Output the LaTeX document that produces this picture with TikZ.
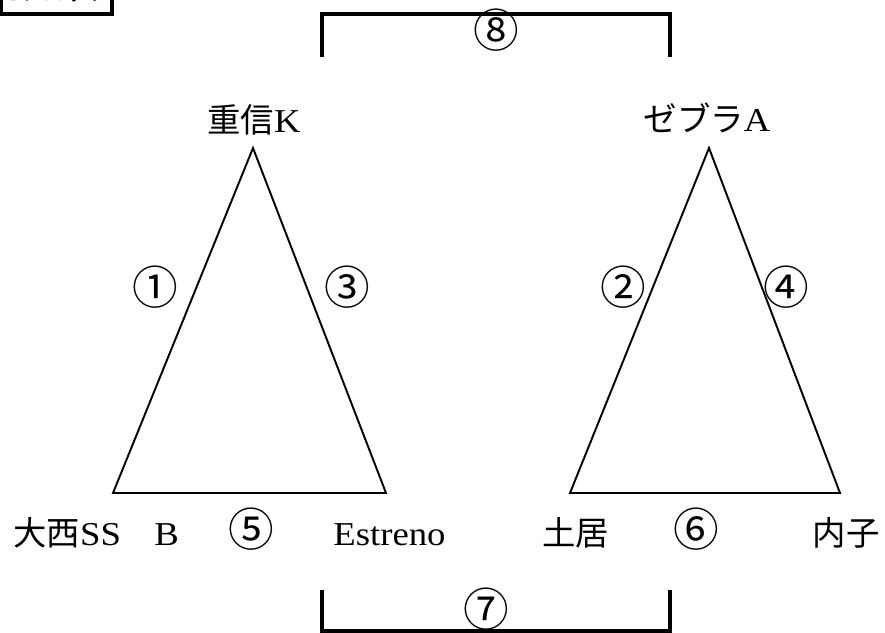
\documentclass[tikz,border=0pt]{standalone}
\usepackage{fontspec}
\setmainfont{Liberation Serif}[FakeStretch=1.1]
\newfontfamily\jpfont{Noto Sans CJK JP}
\newcommand{\jp}[1]{{\jpfont #1}}

\begin{document}
\begin{tikzpicture}[x=0.02cm, y=-0.02cm, line join=miter,
		side/.style={line width=1.1pt},
		bracket/.style={line width=2pt},
		team/.style={font=\fontsize{19}{19}\selectfont, inner sep=0pt},
		maru/.style={font=\fontsize{26}{26}\selectfont\jpfont, inner sep=0pt}]
				\useasboundingbox (0,0) rectangle (885,632);
				
				% Khung tên bảng
				\draw[bracket] (1,-40) rectangle (112,14);
				\node[font=\fontsize{13}{13}\selectfont, inner sep=0pt, anchor=base west] (block) at (3,1) {C\jp{ブロック}};
				
				% Định nghĩa các điểm
				\coordinate (sA) at (253,148);
				\coordinate (sB) at (113,493);
				\coordinate (sC) at (386,493);
				\coordinate (zA) at (709,148);
				\coordinate (zB) at (570,493);
				\coordinate (zC) at (840,493);
				
				% Vẽ hai tam giác
				\draw[side] (sA) -- (sB) -- (sC) -- cycle;
				\draw[side] (zA) -- (zB) -- (zC) -- cycle;
				
				% Vẽ các ngoặc
				\coordinate (t1) at (322,57);
				\coordinate (t2) at (322,14);
				\coordinate (t3) at (670,14);
				\coordinate (t4) at (670,57);
				\coordinate (b1) at (322,590);
				\coordinate (b2) at (322,631);
				\coordinate (b3) at (670,631);
				\coordinate (b4) at (670,590);
				\draw[bracket] (t1) -- (t2) -- (t3) -- (t4);
				\draw[bracket] (b1) -- (b2) -- (b3) -- (b4);
				
				% Gán nhãn
				\node[team, anchor=base] (shigenobu) at (254,132) {\jp{重信}K};
				\node[team, anchor=base] (zebra) at (707,131) {\jp{ゼブラ}A};
				\node[team, anchor=base west] (ohnishi) at (13,545) {\jp{大西}SS\jp{　}B};
				\node[team, anchor=base west] (estreno) at (333,545) {Estreno};
				\node[team, anchor=base west] (doi) at (542,545) {\jp{土居}};
				\node[team, anchor=base east] (uchiko) at (880,545) {\jp{内子}};
				
				% Số trận
				\node[maru] (m1) at (155,287) {①};
				\node[maru] (m2) at (623,287) {②};
				\node[maru] (m3) at (347,287) {③};
				\node[maru] (m4) at (786,287) {④};
				\node[maru] (m5) at (251,529) {⑤};
				\node[maru] (m6) at (696,529) {⑥};
				\node[maru] (m7) at (486,609) {⑦};
				\node[maru] (m8) at (496,30) {⑧};
			\end{tikzpicture}
\end{document}
